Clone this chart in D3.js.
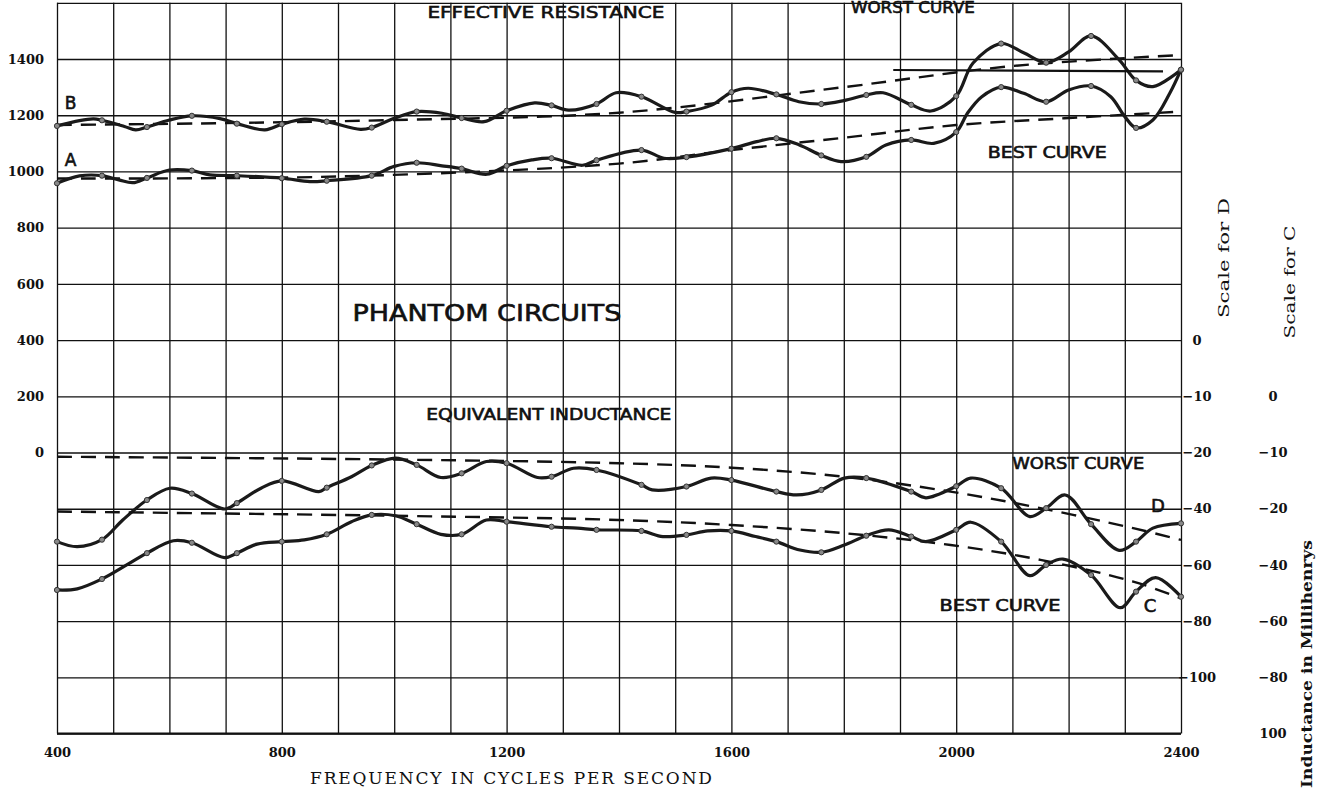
<!DOCTYPE html>
<html lang="en">
<head>
<meta charset="UTF-8">
<title>Phantom circuits</title>
<script src="https://cdn.jsdelivr.net/npm/d3@7"></script>
<style>
  body { margin: 0; background: #fff; }
  svg text { fill: #111; }
  .tick line { stroke: #111; }
  .lbl { font-family: "DejaVu Serif", serif; font-weight: bold; font-size: 13px; }
  .hand { font-family: "DejaVu Sans", sans-serif; font-weight: normal; stroke: #111; stroke-width: 0.6px; }
</style>
</head>
<body>
<svg id="chart" width="1317" height="790"></svg>
<script>
// frequencies where readings were plotted (dots)
var measuredFreq = [400, 480, 560, 640, 720, 800, 880, 960, 1040, 1120, 1200, 1280, 1360,
                    1440, 1520, 1600, 1680, 1760, 1840, 1920, 2000, 2080, 2160, 2240, 2320, 2400];

// effective resistance, worst curve B (ohms, left scale)
var bPoints = [1162, 1182, 1158, 1198, 1170, 1168, 1177, 1156, 1213, 1190, 1216, 1235, 1240,
               1266, 1213, 1282, 1274, 1240, 1272, 1237, 1268, 1455, 1387, 1482, 1324, 1362];
var bBetween = [[440, 1181], [465, 1187], [520, 1160], [540, 1148], [600, 1183], [690, 1188],
                [770, 1148], [840, 1186], [940, 1150], [1000, 1189], [1085, 1207], [1160, 1177],
                [1250, 1244], [1310, 1218], [1395, 1280], [1500, 1210], [1565, 1236], [1630, 1296],
                [1720, 1248], [1800, 1252], [1870, 1280], [1955, 1215], [2030, 1386], [2120, 1422],
                [2200, 1425], [2290, 1397], [2350, 1302]];
var bTrend = [[400, 1165], [700, 1172], [1000, 1183], [1400, 1209], [1800, 1300], [2100, 1375], [2400, 1414]];
var bMean = [[1888, 1361], [2368, 1356]];

// effective resistance, best curve A
var aPoints = [958, 985, 977, 1003, 985, 976, 967, 985, 1031, 1010, 1020, 1047, 1040,
               1076, 1051, 1081, 1118, 1057, 1052, 1112, 1140, 1300, 1248, 1304, 1155, 1362];
var aBetween = [[440, 984], [510, 970], [535, 960], [600, 1005], [672, 988], [850, 964],
                [1000, 1018], [1085, 1020], [1165, 990], [1245, 1041], [1335, 1022], [1480, 1047],
                [1645, 1106], [1720, 1095], [1795, 1035], [1875, 1094], [1960, 1100], [2020, 1207],
                [2045, 1265], [2120, 1278], [2200, 1290], [2275, 1266], [2300, 1195], [2350, 1183],
                [2380, 1278]];
var aTrend = [[400, 975], [900, 982], [1400, 1028], [1600, 1076], [1800, 1120], [2000, 1165], [2200, 1190], [2400, 1213]];

// equivalent inductance, worst curve D (millihenrys, scale for D)
var dPoints = [-51.7, -51.0, -36.9, -34.6, -38.0, -30.1, -32.5, -24.6, -24.4, -27.4, -23.8, -28.6, -26.2,
               -31.5, -32.1, -29.8, -33.9, -33.3, -29.1, -33.9, -32.0, -32.7, -39.8, -45.5, -51.7, -45.2];
var dBetween = [[436, -53.5], [517, -44.0], [601, -32.7], [698, -40.1], [763, -32.7], [866, -33.9],
                [924, -28.6], [1002, -22.0], [1083, -28.9], [1164, -23.2], [1255, -28.9], [1319, -25.6],
                [1459, -33.3], [1564, -29.1], [1716, -35.1], [1801, -29.1], [1946, -36.1], [2026, -29.1],
                [2131, -42.8], [2194, -35.1], [2290, -54.8], [2350, -46.9]];
var dTrend = [[400, -21.5], [1000, -22.5], [1400, -23.8], [1600, -25.4], [1800, -28.6], [1990, -33.9], [2150, -39.8], [2315, -46.9], [2400, -51.1]];

// equivalent inductance, best curve C (scale for C)
var cPoints = [-48.9, -45.0, -35.8, -32.1, -35.8, -31.7, -29.1, -22.2, -25.5, -29.1, -24.6, -26.4, -27.5,
               -27.9, -29.3, -27.9, -31.7, -35.5, -29.6, -29.9, -27.5, -31.7, -40.0, -43.6, -49.5, -51.3];
var cBetween = [[436, -48.5], [524, -40.0], [607, -31.4], [698, -37.4], [756, -32.6], [840, -31.1],
                [924, -24.6], [1002, -22.5], [1083, -29.1], [1164, -24.0], [1326, -26.9], [1478, -29.9],
                [1558, -27.9], [1643, -29.9], [1722, -34.7], [1801, -32.9], [1880, -27.5], [1946, -31.7],
                [2026, -24.8], [2131, -43.8], [2190, -37.9], [2292, -55.2], [2355, -44.5]];
var cTrend = [[400, -21.0], [1000, -22.5], [1400, -24.0], [1600, -25.8], [1800, -28.7], [1990, -32.9], [2150, -38.2], [2315, -45.9], [2400, -51.9]];

// axes
var freqTicks = [400, 800, 1200, 1600, 2000, 2400];
var gridFreq = [400, 500, 600, 700, 800, 900, 1000, 1100, 1200, 1300, 1400, 1500, 1600,
                1700, 1800, 1900, 2000, 2100, 2200, 2300, 2400];
var resTicks = [0, 200, 400, 600, 800, 1000, 1200, 1400];
var gridRes = [-1000, -800, -600, -400, -200, 0, 200, 400, 600, 800, 1000, 1200, 1400, 1600];
var dTicks = [0, -10, -20, -40, -60, -80, -100];
var dTickLabels = ["0", "\u221210", "\u221220", "\u221240", "\u221260", "\u221280", "\u2212100"];
var cTicks = [0, -10, -20, -40, -60, -80, -100];
var cTickLabels = ["0", "\u221210", "\u221220", "\u221240", "\u221260", "\u221280", "100"];

var svg = d3.select("#chart");
var plotLeft = 57, plotRight = 1181, plotTop = 2.8, plotBottom = 733.6;

var x = d3.scaleLinear().domain([400, 2400]).range([plotLeft, plotRight]);
var yR = d3.scaleLinear().domain([-1000, 1600]).range([plotBottom, plotTop]);
// the inductance scales change step below -20
var yD = d3.scaleLinear().domain([0, -20, -100]).range([yR(400), yR(0), yR(-800)]);
var yC = d3.scaleLinear().domain([0, -20, -100]).range([yR(200), yR(-200), yR(-1000)]);

// grid
svg.append("g")
    .attr("transform", "translate(0," + plotBottom + ")")
    .call(d3.axisBottom(x).tickValues(gridFreq).tickSize(-(plotBottom - plotTop)).tickFormat(""))
    .call(function (g) { g.select(".domain").remove(); })
    .selectAll("line").attr("stroke-width", 1.3);
svg.append("g")
    .attr("transform", "translate(" + plotLeft + ",0)")
    .call(d3.axisLeft(yR).tickValues(gridRes).tickSize(-(plotRight - plotLeft)).tickFormat(""))
    .call(function (g) { g.select(".domain").remove(); })
    .selectAll("line").attr("stroke-width", 1.3);
svg.append("line").attr("x1", plotLeft).attr("x2", plotRight).attr("y1", plotBottom).attr("y2", plotBottom)
    .attr("stroke", "#111").attr("stroke-width", 2);

// tick labels
svg.append("g")
    .attr("transform", "translate(" + plotLeft + ",0)")
    .call(d3.axisLeft(yR).tickValues(resTicks).tickSize(0).tickPadding(13).tickFormat(d3.format("d")))
    .call(function (g) { g.select(".domain").remove(); })
    .selectAll("text").attr("class", "lbl");
svg.append("g")
    .attr("transform", "translate(0," + plotBottom + ")")
    .call(d3.axisBottom(x).tickValues(freqTicks).tickSize(0).tickPadding(14).tickFormat(d3.format("d")))
    .call(function (g) { g.select(".domain").remove(); })
    .selectAll("text").attr("class", "lbl");
svg.append("g")
    .attr("transform", "translate(1197,0)")
    .call(d3.axisRight(yD).tickValues(dTicks).tickSize(0).tickFormat(function (d, i) { return dTickLabels[i]; }))
    .call(function (g) { g.select(".domain").remove(); })
    .selectAll("text").attr("class", "lbl").attr("x", 0).attr("text-anchor", "middle");
svg.append("g")
    .attr("transform", "translate(1273,0)")
    .call(d3.axisRight(yC).tickValues(cTicks).tickSize(0).tickFormat(function (d, i) { return cTickLabels[i]; }))
    .call(function (g) { g.select(".domain").remove(); })
    .selectAll("text").attr("class", "lbl").attr("x", 0).attr("text-anchor", "middle");

svg.append("text")
    .attr("x", 511).attr("y", 784).attr("text-anchor", "middle")
    .attr("textLength", 402).attr("lengthAdjust", "spacing")
    .style("font-family", "'DejaVu Serif', serif")
    .style("font-size", "17px")
    .text("FREQUENCY  IN  CYCLES  PER  SECOND");

function vertical(txt, cx, cy, len, bold) {
    svg.append("text").attr("class", "lbl")
        .attr("transform", "translate(" + cx + "," + cy + ") rotate(-90)")
        .attr("text-anchor", "middle").attr("dy", "0.35em")
        .attr("textLength", len).attr("lengthAdjust", "spacingAndGlyphs")
        .style("font-size", "14px").style("font-weight", bold ? "bold" : "normal")
        .text(txt);
}
vertical("Scale for D", 1224, 258, 120, false);
vertical("Scale for C", 1290, 282, 113, false);
vertical("Inductance in Millihenrys", 1307, 664, 248, true);

// curves
function nodes(vals, extra) {
    var pts = measuredFreq.map(function (f, i) { return [f, vals[i]]; }).concat(extra);
    return pts.sort(function (p, q) { return p[0] - q[0]; });
}

function drawSeries(vals, extra, trend, yS) {
    var line = d3.line()
        .x(function (d) { return x(d[0]); })
        .y(function (d) { return yS(d[1]); })
        .curve(d3.curveCatmullRom.alpha(0.5));
    svg.append("path")
        .attr("d", line(trend))
        .attr("fill", "none").attr("stroke", "#111")
        .attr("stroke-width", 2.4).attr("stroke-dasharray", "15 9");
    svg.append("path")
        .attr("d", line(nodes(vals, extra)))
        .attr("fill", "none").attr("stroke", "#1a1a1a")
        .attr("stroke-width", 3.2).attr("stroke-linejoin", "round");
    svg.append("g").selectAll("circle")
        .data(measuredFreq)
        .join("circle")
        .attr("cx", function (f) { return x(f); })
        .attr("cy", function (f, i) { return yS(vals[i]); })
        .attr("r", 2.6)
        .attr("fill", "#888").attr("stroke", "#333").attr("stroke-width", 1);
}

drawSeries(bPoints, bBetween, bTrend, yR);
drawSeries(aPoints, aBetween, aTrend, yR);
drawSeries(dPoints, dBetween, dTrend, yD);
drawSeries(cPoints, cBetween, cTrend, yC);

svg.append("path")
    .attr("d", d3.line().x(function (d) { return x(d[0]); }).y(function (d) { return yR(d[1]); })(bMean))
    .attr("stroke", "#111").attr("stroke-width", 2.2).attr("fill", "none");

// hand lettering
function hand(txt, f, v, size, len) {
    var t = svg.append("text").attr("class", "hand")
        .attr("x", x(f)).attr("y", yR(v)).attr("dy", "0.36em")
        .attr("text-anchor", "middle")
        .style("font-size", size + "px")
        .text(txt);
    if (len) t.attr("textLength", len).attr("lengthAdjust", "spacingAndGlyphs");
}
hand("EFFECTIVE RESISTANCE", 1270, 1567, 16, 237);
hand("WORST CURVE", 1923, 1582, 15, 124);
hand("BEST CURVE", 2162, 1066, 15, 119);
hand("B", 424, 1244, 17);
hand("A", 424, 1041, 17);
hand("PHANTOM CIRCUITS", 1165, 497, 23, 269);
hand("EQUIVALENT INDUCTANCE", 1275, 134, 15, 245);
hand("WORST CURVE", 2217, -41, 15, 132);
hand("D", 2359, -190, 18);
hand("BEST CURVE", 2078, -546, 15, 121);
hand("C", 2345, -546, 18);
</script>
</body>
</html>
